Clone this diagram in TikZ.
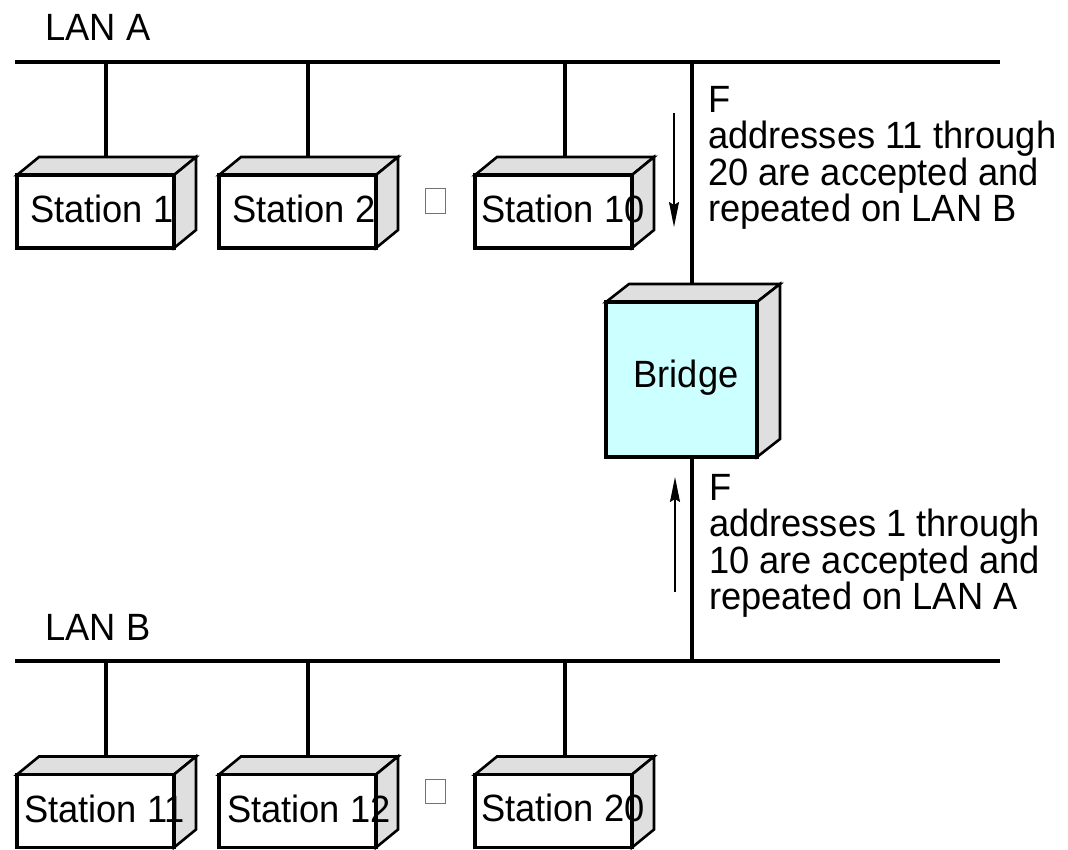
\documentclass[tikz,border=0pt]{standalone}
\usepackage{fontspec}
\usepackage{graphicx}
\setmainfont{Liberation Sans}
\usetikzlibrary{arrows.meta}
\definecolor{sidegray}{HTML}{DFDFDF}
\definecolor{bridgecyan}{HTML}{CCFFFF}
\newcommand\narrowtxt[1]{\scalebox{0.955}[1]{#1}}
\tikzset{
  lan/.style={line width=3.6pt},
  drop/.style={line width=3.4pt},
  frontface/.style={draw, line width=3.2pt, fill=white, minimum width=157pt, minimum height=73pt, inner sep=0pt, outer sep=0pt},
  sideface/.style={draw, line width=2.6pt, fill=sidegray, line join=miter},
  lbl/.style={inner sep=0pt, outer sep=0pt, anchor=base west, font=\fontsize{38}{36.6}\selectfont},
  dotsbox/.style={draw=black!55, line width=1pt, minimum width=20pt, minimum height=25pt, inner sep=0pt},
  flow/.style={line width=1.5pt, -{Stealth[length=25pt, width=10pt, inset=3pt]}}
}
\newcommand\stationbox[3]{% name, cx, cy
  \node[frontface] (#1) at (#2,#3) {};
  \draw[sideface] (#1.north west) -- ++(22,-18) -- ++(157,0) -- (#1.north east) -- cycle;
  \draw[sideface] (#1.north east) -- ++(22,-18) -- ++(0,73) -- (#1.south east) -- cycle;
  \draw[line width=3.2pt] (#1.north west) rectangle (#1.south east);
}
\begin{document}
\begin{tikzpicture}[x=1pt,y=-1pt]
\useasboundingbox (0,0) rectangle (1068,849);

% LAN labels and lines
\node[lbl] (lanAlbl) at (45.5,40) {\narrowtxt{LAN A}};
\node[lbl] (lanBlbl) at (45.5,640) {\narrowtxt{LAN B}};
\coordinate (lanAl) at (15,62);
\coordinate (lanAr) at (1000,62);
\coordinate (lanBl) at (15,661);
\coordinate (lanBr) at (1000,661);
\draw[lan] (lanAl) -- (lanAr);
\draw[lan] (lanBl) -- (lanBr);

% top stations
\stationbox{s1}{95.5}{211.5}
\stationbox{s2}{297.5}{211.5}
\stationbox{s10}{553.5}{211.5}
\node[lbl] (s1t) at (30,222) {\narrowtxt{Station 1}};
\node[lbl] (s2t) at (232,222) {\narrowtxt{Station 2}};
\node[lbl] (s10t) at (481,222) {\narrowtxt{Station 10}};
\node[dotsbox] (dotsA) at (435,200.5) {};

% bottom stations
\stationbox{s11}{95.5}{811}
\stationbox{s12}{297.5}{811}
\stationbox{s20}{553.5}{811}
\node[lbl] (s11t) at (24,822) {\narrowtxt{Station 11}};
\node[lbl] (s12t) at (227,822) {\narrowtxt{Station 12}};
\node[lbl] (s20t) at (481,821) {\narrowtxt{Station 20}};
\node[dotsbox, minimum height=24pt] (dotsB) at (435,791) {};

% drop lines
\coordinate (d1a) at (106,62);   \coordinate (d1b) at (106,157);
\coordinate (d2a) at (308,62);   \coordinate (d2b) at (308,157);
\coordinate (d10a) at (565,62);  \coordinate (d10b) at (565,157);
\coordinate (d11a) at (106,661); \coordinate (d11b) at (106,756);
\coordinate (d12a) at (308,661); \coordinate (d12b) at (308,756);
\coordinate (d20a) at (565,661); \coordinate (d20b) at (565,756);
\draw[drop] (d1a) -- (d1b);
\draw[drop] (d2a) -- (d2b);
\draw[drop] (d10a) -- (d10b);
\draw[drop] (d11a) -- (d11b);
\draw[drop] (d12a) -- (d12b);
\draw[drop] (d20a) -- (d20b);

% bridge
\node[draw, line width=3.2pt, fill=bridgecyan, minimum width=151pt, minimum height=155pt, inner sep=0pt, outer sep=0pt] (bridge) at (681.5,379.5) {};
\draw[sideface] (bridge.north west) -- ++(23,-18) -- ++(151,0) -- (bridge.north east) -- cycle;
\draw[sideface] (bridge.north east) -- ++(23,-18) -- ++(0,155) -- (bridge.south east) -- cycle;
\draw[line width=3.2pt] (bridge.north west) rectangle (bridge.south east);
\node[inner sep=0pt, anchor=base, font=\fontsize{38}{36.6}\selectfont] (bridgetxt) at (686,387) {\narrowtxt{Bridge}};
\coordinate (brA) at (692,62);
\coordinate (brtop) at (692,284);
\coordinate (brB) at (692,661);
\draw[drop] (brA) -- (brtop);
\draw[drop] (bridge.south -| brB) -- (brB);

% flow arrows
\coordinate (fa1) at (674,113); \coordinate (fa2) at (674,227);
\coordinate (fb1) at (675,592); \coordinate (fb2) at (675,477);
\draw[flow] (fa1) -- (fa2);
\draw[flow] (fb1) -- (fb2);

% annotations
\node[lbl] (noteA) at (708,112) {\narrowtxt{\vtop{\hbox{F}\hbox{addresses 11 through}\hbox{20 are accepted and}\hbox{repeated on LAN B}}}};
\node[lbl] (noteB) at (709,500) {\narrowtxt{\vtop{\hbox{F}\hbox{addresses 1 through}\hbox{10 are accepted and}\hbox{repeated on LAN A}}}};
\end{tikzpicture}
\end{document}
